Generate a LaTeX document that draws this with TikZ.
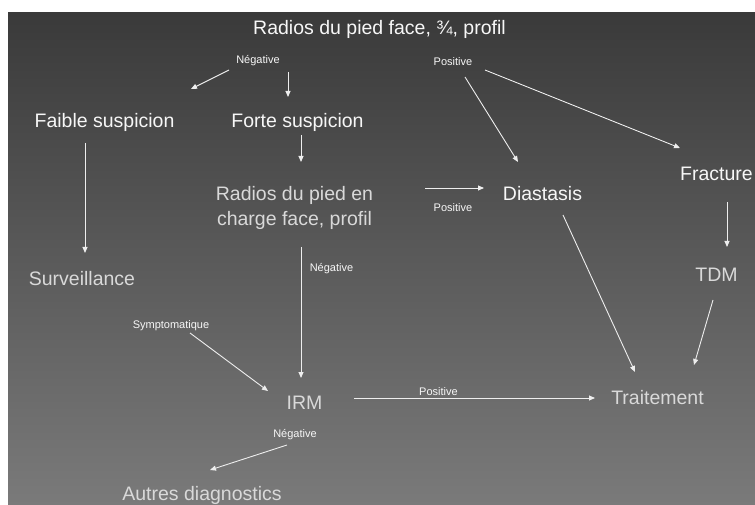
\documentclass[tikz,border=0pt]{standalone}
\usepackage{fontspec}
\setmainfont{Liberation Sans}
\usetikzlibrary{arrows.meta}
\definecolor{bgtop}{HTML}{3A3A3A}
\definecolor{bgmid}{HTML}{606060}
\definecolor{bgbot}{HTML}{7A7A7A}
\definecolor{txtw}{HTML}{F7F7F7}
\definecolor{txtg}{HTML}{D9D9D9}
\definecolor{arr}{HTML}{EEEEEE}
\begin{document}
\begin{tikzpicture}[x=1pt,y=-1pt,
  big/.style={font=\fontsize{19.5}{25}\selectfont, inner sep=0pt, anchor=base, text=txtw},
  biggray/.style={big, text=txtg},
  small/.style={font=\fontsize{11}{13}\selectfont, inner sep=0pt, anchor=base, text=txtw},
  conn/.style={draw=arr, line width=0.9pt, -{Triangle[length=6pt,width=5pt]}}]
\useasboundingbox (0,0) rectangle (755,505);
\fill[white] (0,0) rectangle (755,505);
\begin{scope}
\clip (8,13) rectangle (755,505);
\shade[top color=bgtop, middle color=bgmid, bottom color=bgbot] (8,13) rectangle (755,505);

% nodes
\node[big] (title) at (379.5,34.5) {Radios du pied face, ¾, profil};
\node[small] (neg1) at (258,64) {Négative};
\node[small] (pos1) at (453,66) {Positive};
\node[big] (faible) at (104.5,128) {Faible suspicion};
\node[big] (forte) at (297.5,128) {Forte suspicion};
\node[big, anchor=base east] (fract) at (753,181) {Fracture};
\node[biggray, align=center, anchor=center] (charge) at (294.5,207.5) {Radios du pied en\\charge face, profil};
\node[big] (diast) at (542.5,200.5) {Diastasis};
\node[small] (pos2) at (453,212) {Positive};
\node[small] (neg2) at (331.5,271) {Négative};
\node[biggray] (surv) at (82,285.5) {Surveillance};
\node[biggray] (tdm) at (716.5,281.5) {TDM};
\node[small] (sympt) at (171,328) {Symptomatique};
\node[small] (pos3) at (438.5,395) {Positive};
\node[biggray] (trait) at (657.5,404) {Traitement};
\node[biggray] (irm) at (304.5,409) {IRM};
\node[small] (neg3) at (295,437.5) {Négative};
\node[biggray] (autres) at (202,500.5) {Autres diagnostics};

% connector ends
\coordinate (n1a) at (229,70);  \coordinate (n1b) at (191,89);
\coordinate (n2a) at (288,72);  \coordinate (n2b) at (288,97);
\coordinate (fo1) at (301,135); \coordinate (fo2) at (301,162);
\coordinate (fa1) at (85,143);  \coordinate (fa2) at (85,253);
\coordinate (p1a) at (465,77);  \coordinate (p1b) at (518,162);
\coordinate (p2a) at (485,70);  \coordinate (p2b) at (680,148);
\coordinate (ch1) at (425,188); \coordinate (ch2) at (484,188);
\coordinate (fr1) at (727,202); \coordinate (fr2) at (727,247);
\coordinate (td1) at (713,300); \coordinate (td2) at (694,365);
\coordinate (di1) at (563,215); \coordinate (di2) at (635,372);
\coordinate (cg1) at (301,247); \coordinate (cg2) at (301,378);
\coordinate (sy1) at (190,333); \coordinate (sy2) at (268,391);
\coordinate (ir1) at (354,398); \coordinate (ir2) at (595,398);
\coordinate (ia1) at (287,445); \coordinate (ia2) at (210,470);

% connectors
\draw[conn] (n1a) -- (n1b);
\draw[conn] (n2a) -- (n2b);
\draw[conn] (fo1) -- (fo2);
\draw[conn] (fa1) -- (fa2);
\draw[conn] (p1a) -- (p1b);
\draw[conn] (p2a) -- (p2b);
\draw[conn] (ch1) -- (ch2);
\draw[conn] (fr1) -- (fr2);
\draw[conn] (td1) -- (td2);
\draw[conn] (di1) -- (di2);
\draw[conn] (cg1) -- (cg2);
\draw[conn] (sy1) -- (sy2);
\draw[conn] (ir1) -- (ir2);
\draw[conn] (ia1) -- (ia2);
\end{scope}
\end{tikzpicture}
\end{document}
